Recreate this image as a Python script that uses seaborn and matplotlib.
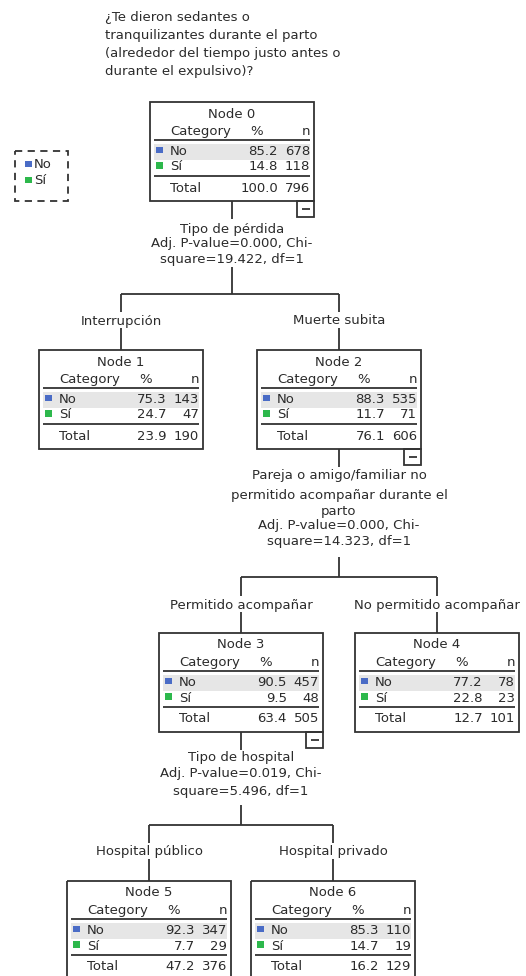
import matplotlib
matplotlib.use("Agg")
import matplotlib.pyplot as plt
import seaborn as sns
import pandas as pd
from matplotlib.patches import Rectangle

sns.set_theme(style="white")
plt.rcParams['font.family'] = ['DejaVu Sans']

# ---------------- data ----------------
title_lines = ["¿Te dieron sedantes o",
               "tranquilizantes durante el parto",
               "(alrededor del tiempo justo antes o",
               "durante el expulsivo)?"]
categories = ["No", "Sí"]
node_ids = [0, 1, 2, 3, 4, 5, 6]
pct_no = [85.2, 75.3, 88.3, 90.5, 77.2, 92.3, 85.3]
n_no = [678, 143, 535, 457, 78, 347, 110]
pct_si = [14.8, 24.7, 11.7, 9.5, 22.8, 7.7, 14.7]
n_si = [118, 47, 71, 48, 23, 29, 19]
pct_total = [100.0, 23.9, 76.1, 63.4, 12.7, 47.2, 16.2]
n_total = [796, 190, 606, 505, 101, 376, 129]

split_nodes = [0, 2, 3]
split_var_lines = [["Tipo de pérdida"],
                   ["Pareja o amigo/familiar no", "permitido acompañar durante el", "parto"],
                   ["Tipo de hospital"]]
p_values = [0.000, 0.000, 0.019]
chi_square = [19.422, 14.323, 5.496]
dfs = [1, 1, 1]
children = [(1, 2), (3, 4), (5, 6)]
branch_labels = [("Interrupción", "Muerte subita"),
                 ("Permitido acompañar", "No permitido acompañar"),
                 ("Hospital público", "Hospital privado")]

# ---------------- layout / style ----------------
W, H = 526, 976
BOX_W, BOX_H = 164, 99
node_cx = {0: 232, 1: 121, 2: 339, 3: 241, 4: 437, 5: 149, 6: 333}
node_top = {0: 102, 1: 350, 2: 350, 3: 633, 4: 633, 5: 881, 6: 881}
split_text_y = {0: [230, 244, 260], 2: [475, 496, 512, 526, 542], 3: [758, 774, 792]}
split_line_y = {0: (219, 267, 294), 2: (467, 557, 577), 3: (750, 805, 825)}
branch_label_y = {0: 321, 2: 605, 3: 852}

LINE = "#333333"
TXT = "#2b2b2b"
FS = 9.5
LW = 1.3
cat_colors = {"No": "#4a6cc6", "Sí": "#2db84c"}

fig = plt.figure(figsize=(W / 100, H / 100), dpi=100)
ax = fig.add_axes([0, 0, 1, 1])
ax.set_xlim(0, W)
ax.set_ylim(H, 0)
ax.axis("off")


def txt(x, y, s, ha="left", fs=FS):
    ax.text(x, y, s, ha=ha, va="center", fontsize=fs, color=TXT)


def hline(x0, x1, y):
    ax.plot([x0, x1], [y, y], color=LINE, lw=LW, solid_capstyle="butt")


def vline(x, y0, y1):
    ax.plot([x, x], [y0, y1], color=LINE, lw=LW, solid_capstyle="butt")


# title
for k, line in enumerate(title_lines):
    txt(105, 18 + k * 18, line)

# legend (dashed box)
ax.add_patch(Rectangle((15, 151), 53, 50, fill=False, ec=LINE, lw=LW,
                       linestyle=(0, (4, 3))))
txt(34, 165, categories[0])
txt(34, 181, categories[1])

marker_rows = []
marker_rows.append({"x": 28.5, "y": 164, "cat": categories[0]})
marker_rows.append({"x": 28.5, "y": 180, "cat": categories[1]})

# nodes
for i in node_ids:
    cx, top = node_cx[i], node_top[i]
    L, R = cx - BOX_W / 2, cx + BOX_W / 2
    ax.add_patch(Rectangle((L + 4, top + 41.5), BOX_W - 8, 16, color="#e6e6e6", lw=0))
    ax.add_patch(Rectangle((L, top), BOX_W, BOX_H, fill=False, ec=LINE, lw=LW))
    txt(cx, top + 12, f"Node {i}", ha="center")
    txt(L + 20, top + 29.5, "Category")
    txt(L + 107, top + 29.5, "%", ha="center")
    txt(R - 4, top + 29.5, "n", ha="right")
    hline(L + 4, R - 4, top + 37.5)
    rows = [(categories[0], pct_no[i], n_no[i], top + 49.5),
            (categories[1], pct_si[i], n_si[i], top + 65)]
    for cat, p, n, y in rows:
        txt(L + 20, y, cat)
        txt(L + 128, y, f"{p:.1f}", ha="right")
        txt(R - 4, y, f"{n}", ha="right")
        marker_rows.append({"x": L + 9.5, "y": y - 1.5, "cat": cat})
    hline(L + 4, R - 4, top + 74)
    txt(L + 20, top + 86, "Total")
    txt(L + 128, top + 86, f"{pct_total[i]:.1f}", ha="right")
    txt(R - 4, top + 86, f"{n_total[i]}", ha="right")

# splits
for k, p in enumerate(split_nodes):
    cx, top = node_cx[p], node_top[p]
    R = cx + BOX_W / 2
    bottom = top + BOX_H
    # collapse box
    ax.add_patch(Rectangle((R - 17, bottom), 17, 16, fill=False, ec=LINE, lw=LW))
    hline(R - 12.5, R - 4.5, bottom + 8)
    y_end1, y_start2, y_bar = split_line_y[p]
    vline(cx, bottom, y_end1)
    lines = split_var_lines[k] + [f"Adj. P-value={p_values[k]:.3f}, Chi-",
                                  f"square={chi_square[k]:.3f}, df={dfs[k]}"]
    for s, y in zip(lines, split_text_y[p]):
        txt(cx, y, s, ha="center")
    vline(cx, y_start2, y_bar)
    c1, c2 = children[k]
    hline(node_cx[c1], node_cx[c2], y_bar)
    ly = branch_label_y[p]
    for c, lab in zip((c1, c2), branch_labels[k]):
        vline(node_cx[c], y_bar, ly - 9)
        txt(node_cx[c], ly, lab, ha="center")
        vline(node_cx[c], ly + 7, node_top[c])

df_markers = pd.DataFrame(marker_rows)
sns.scatterplot(data=df_markers, x="x", y="y", hue="cat", palette=cat_colors,
                marker="s", s=24, linewidth=0, legend=False, ax=ax, zorder=5)
ax.set_xlim(0, W)
ax.set_ylim(H, 0)
ax.axis("off")

fig.savefig("out.png", dpi=100, facecolor="white")
